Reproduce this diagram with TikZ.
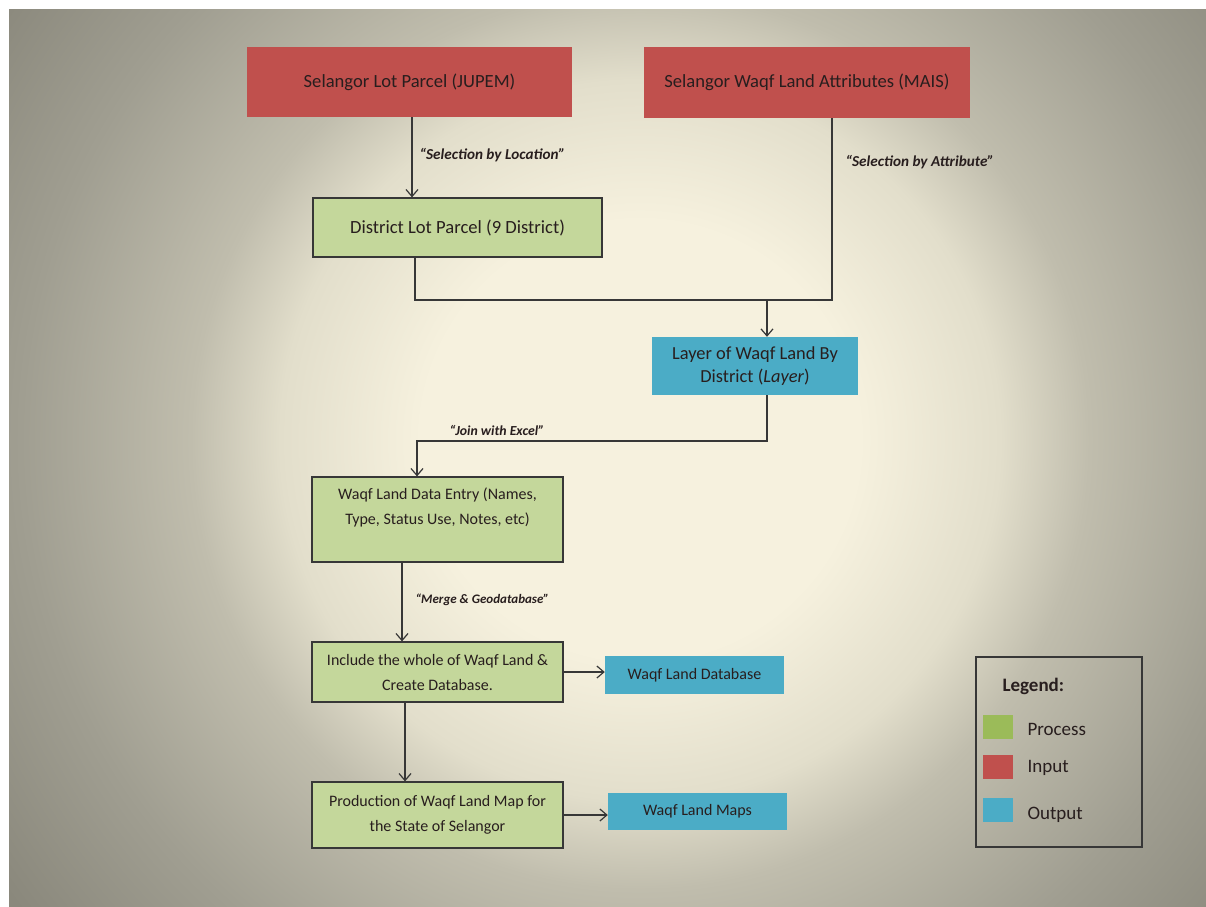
\documentclass[tikz,border=0pt]{standalone}
\usepackage{fontspec}
\setmainfont{Carlito}
\usepackage{xcolor}
\usepackage{tikz}
\usetikzlibrary{arrows.meta, positioning, calc, shadings}
\definecolor{inputred}{RGB}{192, 80, 77}
\definecolor{processgreen}{RGB}{196, 215, 155}
\definecolor{swatchgreen}{RGB}{155, 187, 89}
\definecolor{outputblue}{RGB}{75, 172, 198}
\definecolor{linegray}{RGB}{55, 55, 55}
\definecolor{textdark}{RGB}{40, 30, 30}
\definecolor{bgcream}{RGB}{246, 241, 222}
\definecolor{bglight}{RGB}{226, 222, 203}
\definecolor{bgmid}{RGB}{192, 189, 173}
\definecolor{bggray}{RGB}{160, 158, 145}
\definecolor{bgdark}{RGB}{138, 136, 124}
\pgfdeclareradialshading{bgglow}{\pgfpoint{0bp}{0bp}}{%
  color(0bp)=(bgcream); color(7.6bp)=(bgcream); color(12.5bp)=(bglight);
  color(15.6bp)=(bgmid); color(21.5bp)=(bggray); color(27bp)=(bgdark); color(50bp)=(bgdark)}
\tikzset{
  inbox/.style={rectangle, fill=inputred, text=textdark, align=center,
              minimum width=#1, font=\fontsize{18.6}{25}\selectfont, inner sep=2pt},
  inbox/.default=325pt,
  procbox/.style={rectangle, draw=linegray, line width=1.2pt, fill=processgreen,
              text=textdark, align=center, minimum width=#1,
              font=\fontsize{16}{25}\selectfont, inner sep=2pt},
  procbox/.default=251pt,
  outbox/.style={rectangle, fill=outputblue, text=textdark, align=center,
              minimum width=#1, font=\fontsize{16}{24}\selectfont, inner sep=2pt},
  outbox/.default=179pt,
  swatch/.style={rectangle, fill=#1, minimum width=30pt, minimum height=24pt, inner sep=0pt},
  line/.style={line width=1.2pt, color=linegray},
  arrow/.style={-{Straight Barb[length=7pt, width=12pt]}, line width=1.2pt, color=linegray},
  steplabel/.style={font=\fontsize{#1}{16}\selectfont\bfseries\itshape, text=textdark},
  steplabel/.default=13,
  legtext/.style={anchor=west, font=\fontsize{19}{21}\selectfont, text=textdark},
}

\begin{document}
\begin{tikzpicture}[x=1pt, y=-1pt]
  % background
  \useasboundingbox (0,0) rectangle (1206,906);
  \fill[white] (0,0) rectangle (1206,906);
  \begin{scope}
    \clip (9,9) rectangle (1206,906);
    \shade[shading=bgglow] (-80,-280) rectangle (1360,1160);
  \end{scope}

  % inputs
  \node[inbox, minimum height=70pt] (lot) at (409.5,82) {Selangor Lot Parcel (JUPEM)};
  \node[inbox=326pt, minimum height=71pt] (attr) at (807,82.5) {Selangor Waqf Land Attributes (MAIS)};

  % processes and outputs
  \node[procbox=289pt, minimum height=59pt, font=\fontsize{18.6}{25}\selectfont] (dist) at (457.5,227.5)
        {District Lot Parcel (9 District)};
  \node[outbox=206pt, minimum height=58pt, font=\fontsize{18.4}{23}\selectfont] (layer) at (755,366)
        {Layer of Waqf Land By\\District (\textit{Layer})};
  \node[procbox, minimum height=85pt] (entry) at (437.5,519.5)
        {Waqf Land Data Entry (Names,\\Type, Status Use, Notes, etc)\\[-6pt] \strut};
  \node[procbox, minimum height=60pt] (incl) at (437.5,672)
        {Include the whole of Waqf Land \&\\Create Database.};
  \node[outbox, minimum height=38pt] (db) at (694.5,675) {Waqf Land Database};
  \node[procbox, minimum height=66pt] (prod) at (437.5,815)
        {Production of Waqf Land Map for\\the State of Selangor};
  \node[outbox, minimum height=37pt] (maps) at (697.5,811.5) {Waqf Land Maps};

  % connectors
  \coordinate (jn) at (767,300);
  \coordinate (jx) at (417,441);
  \draw[arrow] ([xshift=2.5pt]lot.south) -- ([xshift=2.5pt]lot.south |- dist.north);
  \draw[line] ([xshift=-42.5pt]dist.south) |- (jn) -| ([xshift=25pt]attr.south);
  \draw[arrow] (jn) -- (jn |- layer.north);
  \draw[arrow] (jn |- layer.south) |- (jx) -- (jx |- entry.north);
  \draw[arrow] ([xshift=-35.5pt]entry.south) -- ([xshift=-35.5pt]entry.south |- incl.north);
  \draw[arrow] (incl.east) -- (incl.east -| db.west);
  \draw[arrow] ([xshift=-32.5pt]incl.south) -- ([xshift=-32.5pt]incl.south |- prod.north);
  \draw[arrow] (prod.east) -- (prod.east -| maps.west);

  % connector labels
  \node[steplabel=15.2, anchor=west] (bylocation) at (416,155) {``Selection by Location''};
  \node[steplabel=15.2, anchor=west] (byattribute) at (842,162) {``Selection by Attribute''};
  \node[steplabel=13.8] (joinexcel) at (497,430) {``Join with Excel''};
  \node[steplabel, anchor=west] (mergegeo) at (412,600) {``Merge \& Geodatabase''};

  % legend
  \node[draw=linegray, line width=1.2pt, minimum width=166pt, minimum height=190pt, inner sep=0pt] (legend) at (1059,752) {};
  \node[legtext, font=\fontsize{19}{21}\selectfont\bfseries] (legtitle) at (999,686) {Legend:};
  \node[swatch=swatchgreen] (swproc) at (998,726.5) {};
  \node[swatch=inputred] (swin) at (998,766.5) {};
  \node[swatch=outputblue] (swout) at (998,809.5) {};
  \node[legtext] (lgproc) at (1024,729) {Process};
  \node[legtext] (lgin) at (1024,768) {Input};
  \node[legtext] (lgout) at (1024,815) {Output};
\end{tikzpicture}
\end{document}
